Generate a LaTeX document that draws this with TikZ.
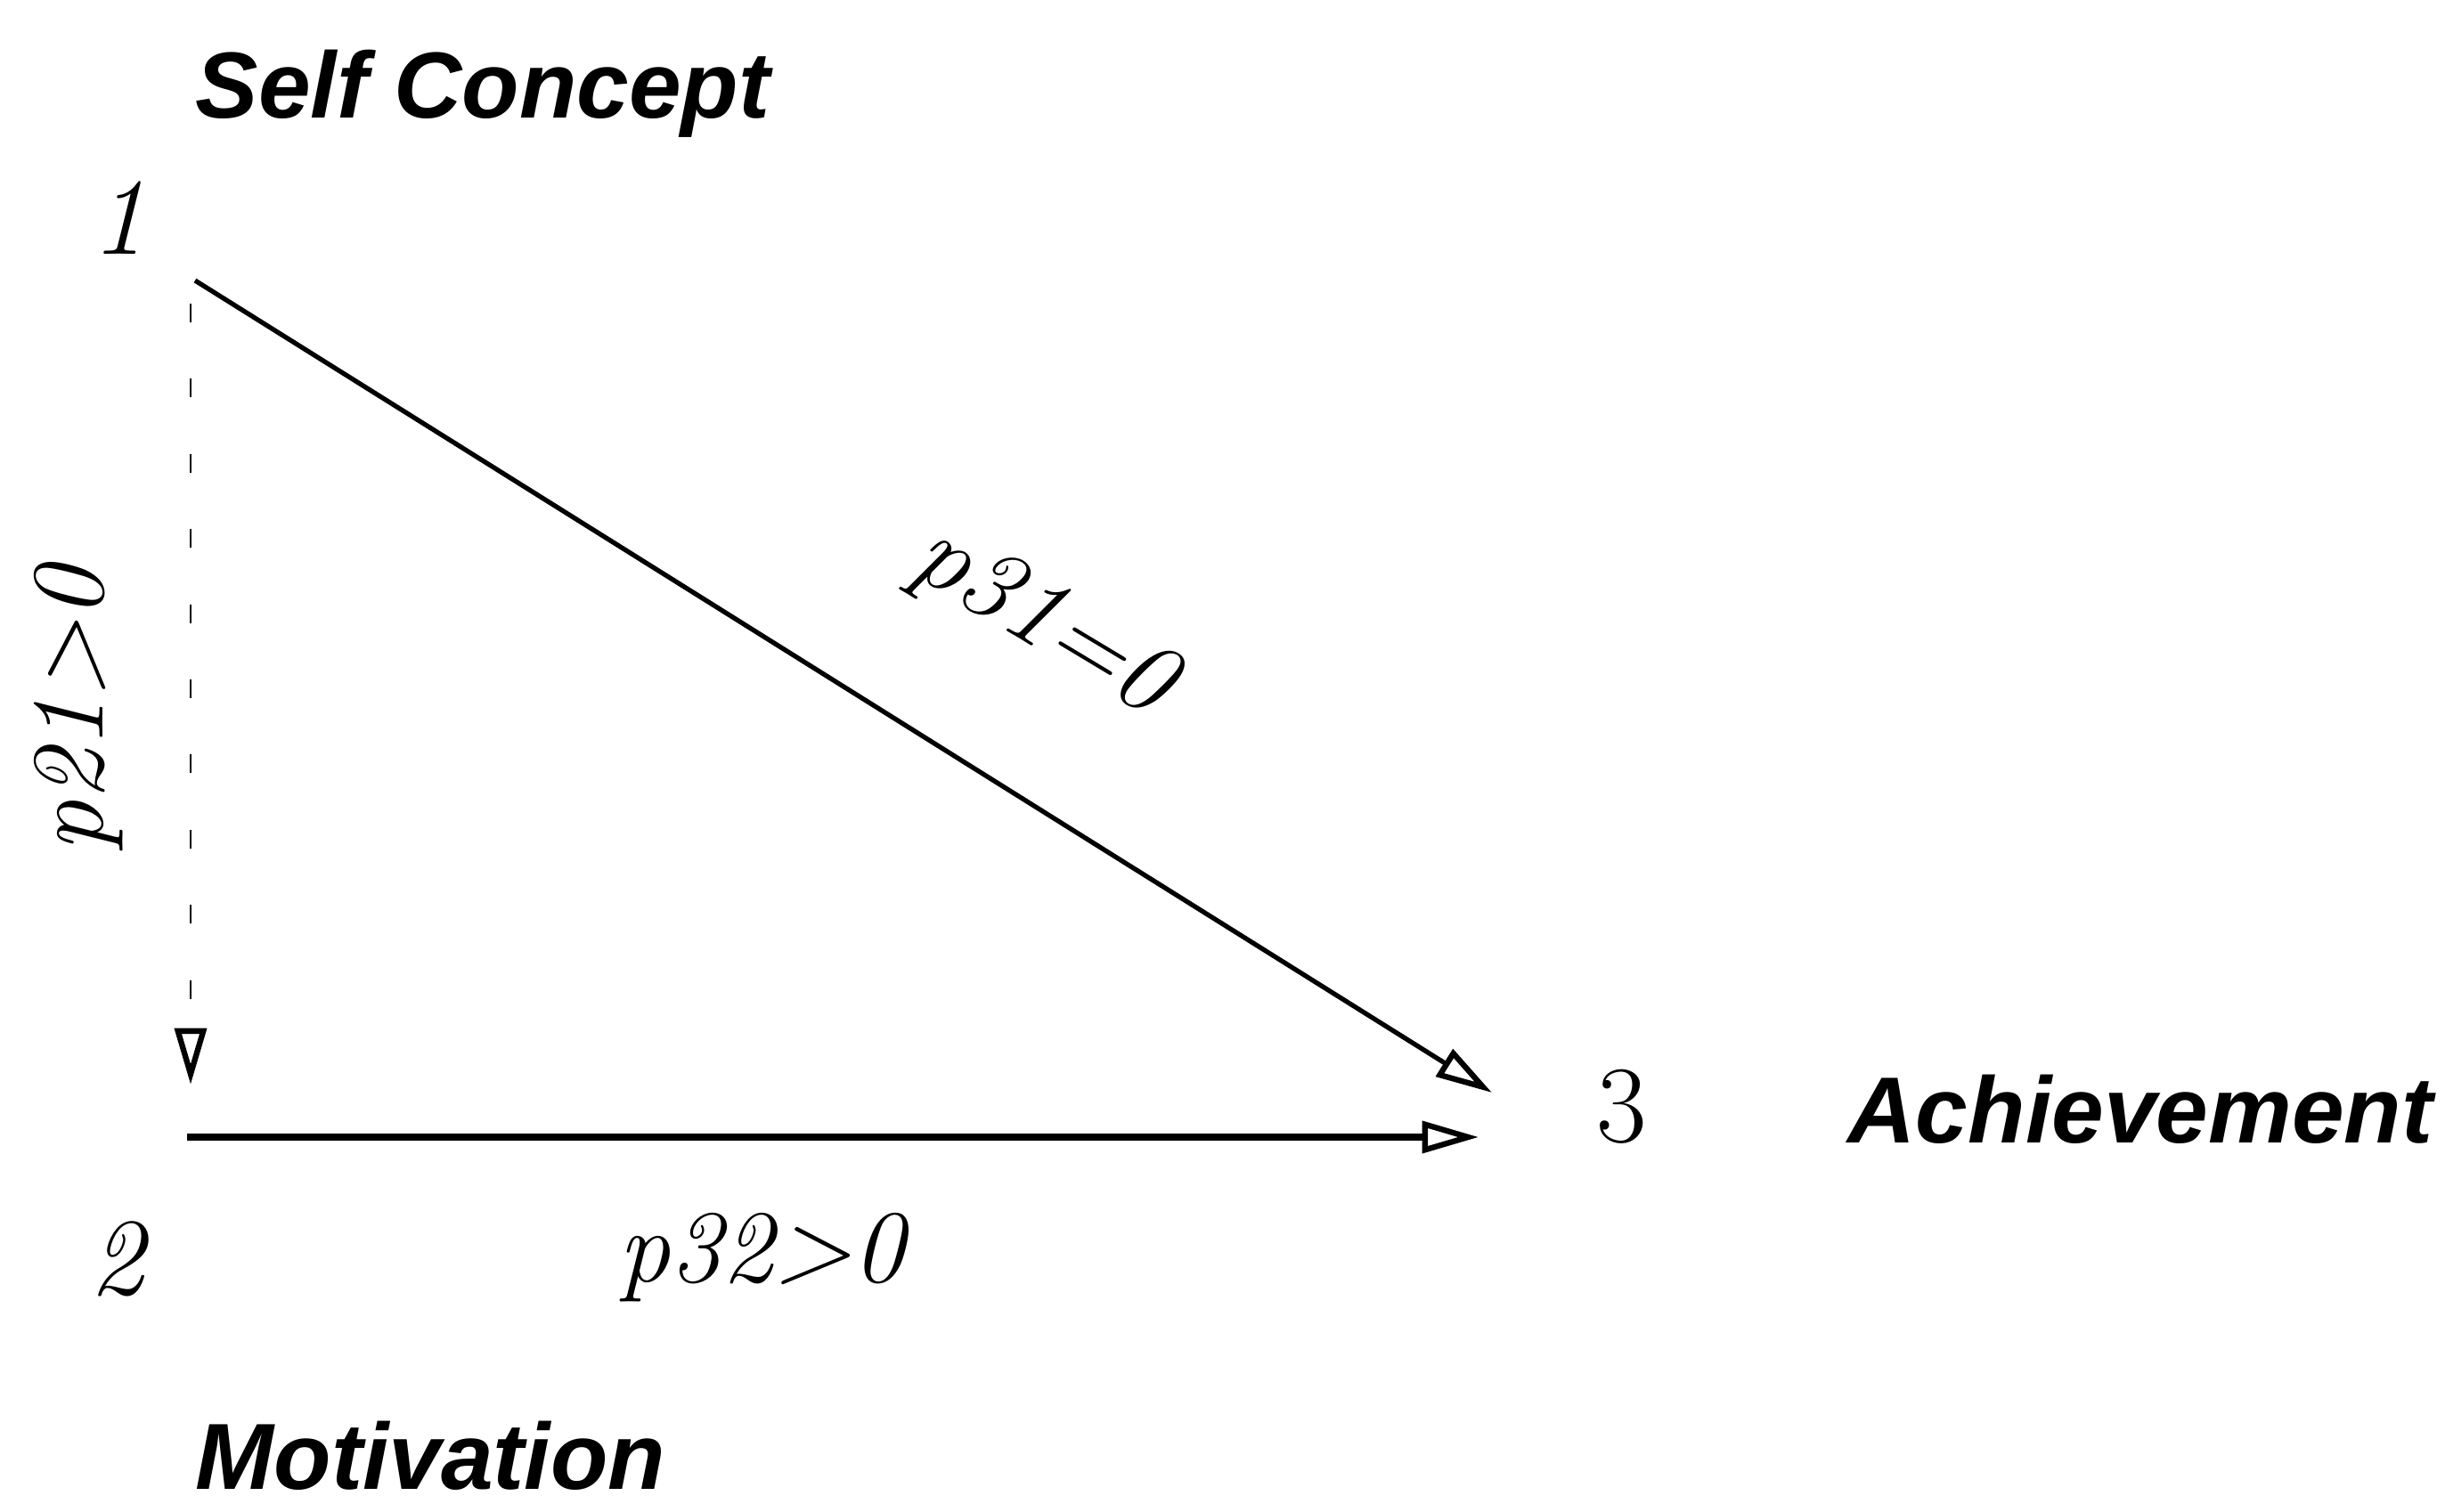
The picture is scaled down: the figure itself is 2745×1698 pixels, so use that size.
\documentclass[tikz,border=0pt]{standalone}
\usepackage{fontspec}
\newfontfamily\labfont{Liberation Sans}
\usetikzlibrary{arrows.meta}
\tikzset{
  lab/.style={font=\labfont\bfseries\itshape\fontsize{30}{36}\selectfont, inner sep=0pt, anchor=base west},
  num/.style={font=\itshape\fontsize{35}{40}\selectfont, inner sep=0pt},
  numup/.style={font=\fontsize{35}{40}\selectfont, inner sep=0pt},
  coef/.style={font=\itshape\fontsize{33}{40}\selectfont, inner sep=0pt},
  openhead/.style={-{Triangle[open,length=18pt,width=10pt,line width=1.8pt]}},
  pathline/.style={line width=1.5pt, openhead},
  dashline/.style={line width=0.8pt, dash pattern=on 6pt off 18pt, openhead}
}
\begin{document}
\begin{tikzpicture}[x=0.01cm,y=-0.01cm]
\useasboundingbox (0,0) rectangle (2745,1698);
% labels
\node[lab] (sc) at (219,133) {Self Concept};
\node[lab] (ach) at (2074,1283) {Achievement};
\node[lab] (mot) at (219,1672) {Motivation};
% variable numbers
\node[num] (n1) at (133,245) {1};
\node[num] (n2) at (131,1414) {2};
\node[numup] (n3) at (1821,1243) {3};
% connector end points
\coordinate (s1) at (219,315);
\coordinate (t31) at (1675,1227);
\coordinate (s2) at (210,1277);
\coordinate (t32) at (1660,1277);
\coordinate (v1) at (214,341);
\coordinate (v2) at (214,1218);
% connectors
\draw[pathline] (s1) -- (t31);
\draw[pathline, line width=2pt] (s2) -- (t32);
\draw[dashline] (v1) -- (v2);
% coefficients
\node[coef, rotate=-31] (p31) at (1170,700) {p31=0};
\node[coef] (p32) at (855,1412) {p32>0};
\node[coef, rotate=90] (p21) at (88,797) {p21>0};
\end{tikzpicture}
\end{document}
